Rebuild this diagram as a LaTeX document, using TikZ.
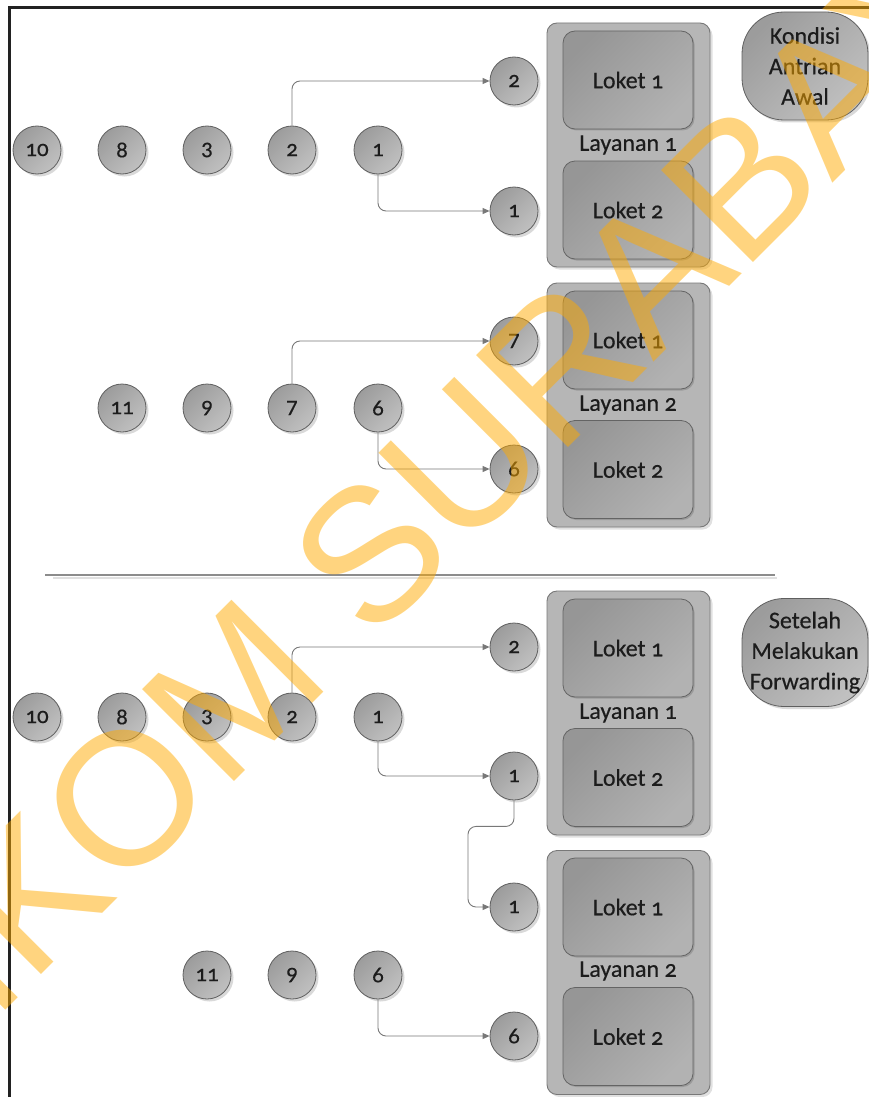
\documentclass[tikz,border=0pt]{standalone}
\usepackage{fontspec}
\setmainfont{Carlito}[Numbers=OldStyle, FakeBold=0.4]
\newfontfamily\wmfont{Liberation Sans}
\usetikzlibrary{arrows.meta,shadows}

\definecolor{ink}{RGB}{28,28,28}
\definecolor{frameC}{RGB}{34,34,34}
\definecolor{ballA}{RGB}{156,156,156}
\definecolor{ballB}{RGB}{192,192,192}
\definecolor{ballLine}{RGB}{95,95,95}
\definecolor{outerFill}{RGB}{182,182,182}
\definecolor{outerLine}{RGB}{120,120,120}
\definecolor{innerA}{RGB}{150,150,150}
\definecolor{innerB}{RGB}{178,178,178}
\definecolor{innerLine}{RGB}{100,100,100}
\definecolor{lineC}{RGB}{120,120,120}
\definecolor{wmC}{RGB}{255,170,0}

\begin{document}
\begin{tikzpicture}[x=1pt,y=-1pt,
  ball/.style={circle, draw=ballLine, line width=0.8pt, minimum size=48pt,
    inner sep=0pt, top color=ballA, bottom color=ballB, shading angle=45,
    drop shadow={shadow xshift=2.5pt, shadow yshift=-2.5pt, fill=black, opacity=0.15},
    font=\fontsize{23}{23}\selectfont, text=ink},
  service/.style={rectangle, rounded corners=10pt, draw=outerLine, line width=0.9pt,
    fill=outerFill, minimum width=163pt, minimum height=244pt, inner sep=0pt,
    drop shadow={shadow xshift=2.5pt, shadow yshift=-2.5pt, fill=black, opacity=0.12}},
  counter/.style={rectangle, rounded corners=12pt, draw=innerLine, line width=0.8pt,
    top color=innerA, bottom color=innerB, shading angle=45,
    minimum width=130pt, minimum height=98pt, inner sep=0pt,
    drop shadow={shadow xshift=1.5pt, shadow yshift=-1.5pt, fill=black, opacity=0.15},
    font=\fontsize{24}{24}\selectfont, text=ink},
  svclabel/.style={font=\fontsize{24}{24}\selectfont, text=ink, inner sep=0pt},
  status/.style={rectangle, rounded corners=42pt, draw=ballLine, line width=0.8pt,
    top color=ballA, bottom color=ballB, shading angle=45,
    minimum width=126pt, minimum height=108pt, inner sep=0pt,
    drop shadow={shadow xshift=2.5pt, shadow yshift=-2.5pt, fill=black, opacity=0.15},
    align=center, font=\fontsize{24}{30.5}\selectfont, text=ink},
  conn/.style={draw=lineC, line width=0.9pt, rounded corners=8pt,
    -{Triangle[length=7pt,width=6pt]}},
  watermark/.style={font=\wmfont\fontsize{189}{189}\selectfont, text=wmC,
    text opacity=0.5, inner sep=0pt}
]
\useasboundingbox (0,0) rectangle (869,1097);

% page frame (left and top edges)
\draw[frameC, line width=3pt] (9,1100) -- (9,8) -- (872,8);

% divider between the two states
\draw[black!12, line width=2.5pt] (53,578) -- (777,578);
\draw[black!45, line width=1.4pt] (45,575) -- (775,575);

% ---------------- initial queue state ----------------
\node[service] (s1) at (628.5,145) {};
\node[counter] (s1k1) at (628,80) {Loket 1};
\node[counter] (s1k2) at (628,210) {Loket 2};
\node[svclabel] (s1l) at (628,145) {Layanan 1};

\node[service] (s2) at (628.5,405) {};
\node[counter] (s2k1) at (628,340) {Loket 1};
\node[counter] (s2k2) at (628,469.5) {Loket 2};
\node[svclabel] (s2l) at (628,405) {Layanan 2};

\node[ball] (a10) at (37,150) {10};
\node[ball] (a8)  at (122,150) {8};
\node[ball] (a3)  at (207,150) {3};
\node[ball] (a2)  at (292,150) {2};
\node[ball] (a1)  at (378,150) {1};
\node[ball] (ra2) at (514,81) {2};
\node[ball] (ra1) at (514,211) {1};

\node[ball] (b11) at (122,408) {11};
\node[ball] (b9)  at (207,408) {9};
\node[ball] (b7)  at (292,408) {7};
\node[ball] (b6)  at (378,408) {6};
\node[ball] (rb7) at (514,341) {7};
\node[ball] (rb6) at (514,469) {6};

\draw[conn] (a2.north) |- (ra2.west);
\draw[conn] (a1.south) |- (ra1.west);
\draw[conn] (b7.north) |- (rb7.west);
\draw[conn] (b6.south) |- (rb6.west);

\node[status] (st1) at (805,66) {Kondisi\\Antrian\\Awal};

% ---------------- state after forwarding ----------------
\node[service] (s3) at (628.5,713) {};
\node[counter] (s3k1) at (628,648) {Loket 1};
\node[counter] (s3k2) at (628,777.5) {Loket 2};
\node[svclabel] (s3l) at (628,713) {Layanan 1};

\node[service] (s4) at (628.5,972.5) {};
\node[counter] (s4k1) at (628,907) {Loket 1};
\node[counter] (s4k2) at (628,1036.5) {Loket 2};
\node[svclabel] (s4l) at (628,971) {Layanan 2};

\node[ball] (c10) at (37,717) {10};
\node[ball] (c8)  at (122,717) {8};
\node[ball] (c3)  at (207,717) {3};
\node[ball] (c2)  at (292,717) {2};
\node[ball] (c1)  at (378,717) {1};
\node[ball] (rc2) at (514,647) {2};
\node[ball] (rc1) at (514,776) {1};

\node[ball] (d11) at (207,975) {11};
\node[ball] (d9)  at (292,975) {9};
\node[ball] (d6)  at (378,975) {6};
\node[ball] (rd1) at (514,907) {1};
\node[ball] (rd6) at (514,1036) {6};

\draw[conn] (c2.north) |- (rc2.west);
\draw[conn] (c1.south) |- (rc1.west);
\draw[conn] (rc1.south) |- ++(-46,26) |- (rd1.west);
\draw[conn] (d6.south) |- (rd6.west);

\node[status] (st2) at (805,652.5) {Setelah\\Melakukan\\Forwarding};

% watermark across the page
\node[watermark, rotate=45] (wm) at (405,519) {STIKOM SURABAYA};
\end{tikzpicture}
\end{document}
